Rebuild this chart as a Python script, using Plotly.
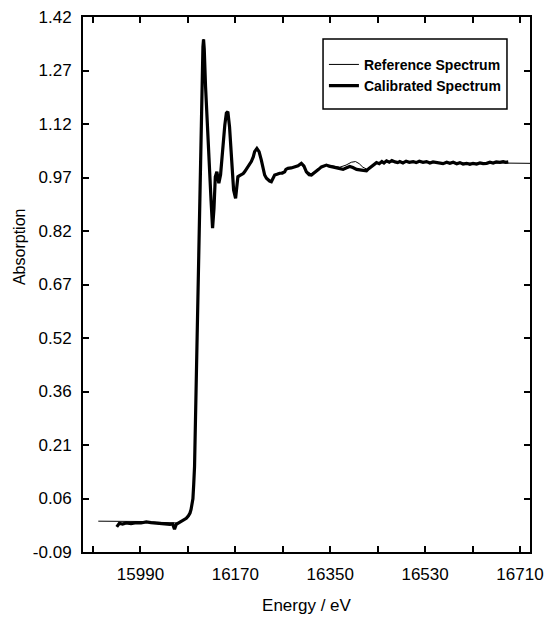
import plotly.graph_objects as go

# ---- data ----
ref_energy = [15910, 15930, 15945, 15960, 15980, 16000, 16020, 16040, 16052, 16060,
              16068, 16075, 16080, 16084, 16087, 16089.5, 16091, 16092.6, 16094.5, 16097,
              16099, 16100.8, 16102.1, 16104, 16105.3, 16107.2, 16108.5, 16109.7, 16111, 16113.5,
              16117, 16121, 16124, 16126.8, 16129.5, 16132, 16135, 16138.7, 16142, 16146,
              16150, 16153, 16155.8, 16159, 16162.3, 16166.7, 16170.5, 16174.8, 16181.3, 16187.6,
              16193.8, 16200.3, 16206.6, 16210.9, 16215, 16219.3, 16225.6, 16231.8, 16238.3, 16244.6,
              16254.1, 16263.6, 16269.8, 16282.6, 16295.3, 16304.8, 16314.3, 16323.8, 16333.3, 16342.8,
              16355.3, 16368, 16380, 16390, 16398, 16405, 16412, 16420, 16428.3, 16437.8,
              16456.8, 16482, 16507.3, 16532.7, 16558, 16583.3, 16608.7, 16635, 16660, 16690,
              16729]
ref_abs = [-0.003, -0.003, -0.004, -0.005, -0.004, -0.004, -0.006, -0.008, -0.009, -0.008,
           -0.004, 0.003, 0.010, 0.020, 0.035, 0.060, 0.100, 0.151, 0.292, 0.480,
           0.668, 0.810, 0.951, 1.045, 1.129, 1.270, 1.335, 1.357, 1.330, 1.223,
           1.100, 0.988, 0.900, 0.826, 0.880, 0.965, 0.980, 0.953, 0.975, 1.054,
           1.115, 1.147, 1.150, 1.110, 1.036, 0.935, 0.910, 0.965, 0.974, 0.983,
           0.997, 1.012, 1.038, 1.047, 1.038, 1.016, 0.975, 0.962, 0.958, 0.972,
           0.980, 0.985, 0.992, 0.996, 1.004, 0.985, 0.977, 0.988, 0.998, 1.003,
           1.000, 0.996, 1.002, 1.010, 1.012, 1.006, 0.996, 0.990, 0.998, 1.007,
           1.011, 1.011, 1.011, 1.010, 1.009, 1.008, 1.007, 1.007, 1.008, 1.008,
           1.007]

cal_energy = [15945, 15950, 15956, 15963, 15972, 15982, 15991, 16001, 16010, 16020,
              16029, 16039, 16046, 16051, 16054.6, 16057.8, 16062, 16067, 16072, 16077,
              16081, 16084, 16086, 16088, 16089.5, 16091, 16092.6, 16094.5, 16097, 16099,
              16100.8, 16102.1, 16104, 16105.3, 16107.2, 16108.5, 16109.7, 16111, 16113.5, 16117,
              16121, 16124, 16126.8, 16129.5, 16132, 16135, 16137, 16138.7, 16142, 16146,
              16150, 16153, 16155.8, 16159, 16162.3, 16166.7, 16170.5, 16174.8, 16178, 16181.3,
              16185, 16187.6, 16191, 16193.8, 16197, 16200.3, 16204, 16206.6, 16210.9, 16215,
              16219.3, 16223, 16225.6, 16229, 16231.8, 16235, 16238.3, 16241, 16244.6, 16249,
              16254.1, 16259, 16263.6, 16266, 16269.8, 16276, 16282.6, 16289, 16295.3, 16300,
              16304.8, 16310, 16314.3, 16319, 16323.8, 16328, 16333.3, 16338, 16342.8, 16348,
              16355.3, 16362, 16368, 16374.3, 16380, 16387, 16393, 16400, 16409.3, 16414,
              16418.8, 16423, 16428.3, 16433, 16437.8, 16443, 16448, 16452, 16456.8, 16462,
              16467, 16473, 16478, 16482, 16488, 16494, 16500, 16507.3, 16513, 16519,
              16526, 16532.7, 16539, 16545, 16552, 16558, 16564, 16571, 16577, 16583.3,
              16590, 16596, 16602, 16608.7, 16615, 16621, 16627.7, 16634, 16640, 16646.7,
              16653, 16659, 16665, 16672, 16678, 16683, 16687.8]
cal_abs = [-0.019, -0.009, -0.011, -0.008, -0.010, -0.007, -0.008, -0.005, -0.007, -0.009,
           -0.010, -0.011, -0.012, -0.011, -0.026, -0.012, -0.008, -0.004, 0.000, 0.005,
           0.012, 0.020, 0.030, 0.045, 0.060, 0.100, 0.151, 0.292, 0.480, 0.668,
           0.810, 0.951, 1.045, 1.129, 1.270, 1.335, 1.357, 1.330, 1.223, 1.100,
           0.988, 0.900, 0.824, 0.880, 0.969, 0.983, 0.965, 0.951, 0.975, 1.054,
           1.115, 1.149, 1.153, 1.110, 1.036, 0.932, 0.908, 0.969, 0.972, 0.974,
           0.978, 0.983, 0.990, 0.997, 1.004, 1.012, 1.025, 1.040, 1.049, 1.040,
           1.016, 0.990, 0.974, 0.965, 0.960, 0.957, 0.955, 0.962, 0.974, 0.976,
           0.979, 0.979, 0.983, 0.990, 0.993, 0.994, 0.997, 1.000, 1.007, 1.000,
           0.983, 0.975, 0.974, 0.979, 0.983, 0.990, 0.997, 1.000, 1.002, 0.999,
           0.996, 0.993, 0.992, 0.990, 0.994, 0.998, 0.995, 0.990, 0.988, 0.987,
           0.986, 0.992, 0.998, 1.004, 1.009, 1.006, 1.012, 1.008, 1.014, 1.010,
           1.015, 1.011, 1.009, 1.012, 1.008, 1.013, 1.010, 1.012, 1.009, 1.013,
           1.010, 1.012, 1.008, 1.011, 1.009, 1.009, 1.006, 1.010, 1.007, 1.010,
           1.006, 1.009, 1.005, 1.007, 1.004, 1.007, 1.005, 1.008, 1.006, 1.007,
           1.010, 1.008, 1.011, 1.010, 1.012, 1.010, 1.011]

x_tickvals = [15900, 15990, 16080, 16170, 16260, 16350, 16440, 16530, 16620, 16710]
x_ticktext = ["", "15990", "", "16170", "", "16350", "", "16530", "", "16710"]
y_tickvals = [-0.09, 0.061, 0.212, 0.363, 0.514, 0.665, 0.816, 0.967, 1.118, 1.269, 1.42]
y_ticktext = ["-0.09", "0.06", "0.21", "0.36", "0.52", "0.67", "0.82", "0.97", "1.12", "1.27", "1.42"]
x_range = [15881, 16729]
y_range = [-0.09, 1.42]

FONT = "Liberation Sans, Arial, sans-serif"

fig = go.Figure()
fig.add_trace(go.Scatter(x=ref_energy, y=ref_abs, mode="lines", name="Reference Spectrum",
                         line=dict(color="black", width=1)))
fig.add_trace(go.Scatter(x=cal_energy, y=cal_abs, mode="lines", name="Calibrated Spectrum",
                         line=dict(color="black", width=3.2)))

axis_common = dict(showgrid=False, zeroline=False, showline=True, linecolor="black",
                   linewidth=2, mirror="ticks", ticks="inside", ticklen=6,
                   tickwidth=1.5, tickcolor="black",
                   tickfont=dict(family=FONT, size=17, color="black"))

fig.update_xaxes(range=x_range, tickmode="array", tickvals=x_tickvals, ticktext=x_ticktext,
                 title=dict(text="Energy / eV", font=dict(family=FONT, size=17, color="black"),
                            standoff=16),
                 ticklabelstandoff=6, **axis_common)
fig.update_yaxes(range=y_range, tickmode="array", tickvals=y_tickvals, ticktext=y_ticktext,
                 ticklabelstandoff=6, **axis_common)

# y-axis title placed where the reference shows it (left edge, a bit above centre)
fig.add_annotation(text="Absorption", textangle=-90, xref="paper", yref="paper",
                   x=0, y=0.57, xanchor="center", yanchor="middle", xshift=-64,
                   showarrow=False, font=dict(family=FONT, size=16, color="black"))

# legend frame
fig.add_shape(type="rect", xref="paper", yref="paper", x0=0.537, x1=0.9485, y0=0.828, y1=0.959,
              line=dict(color="black", width=1.5), fillcolor="white", layer="below")

fig.update_layout(
    width=545, height=617,
    margin=dict(l=83, r=15, t=17, b=65, autoexpand=False),
    paper_bgcolor="white", plot_bgcolor="rgba(0,0,0,0)",
    font=dict(family=FONT, color="black"),
    showlegend=True,
    legend=dict(x=0.539, y=0.9405, xanchor="left", yanchor="top",
                bgcolor="rgba(0,0,0,0)", borderwidth=0,
                font=dict(family=FONT, size=14, color="black", weight="bold"),
                tracegroupgap=0, itemwidth=30),
)

fig.write_html("out.html", config={"displayModeBar": False},
               post_script="document.body.style.margin='0';")
